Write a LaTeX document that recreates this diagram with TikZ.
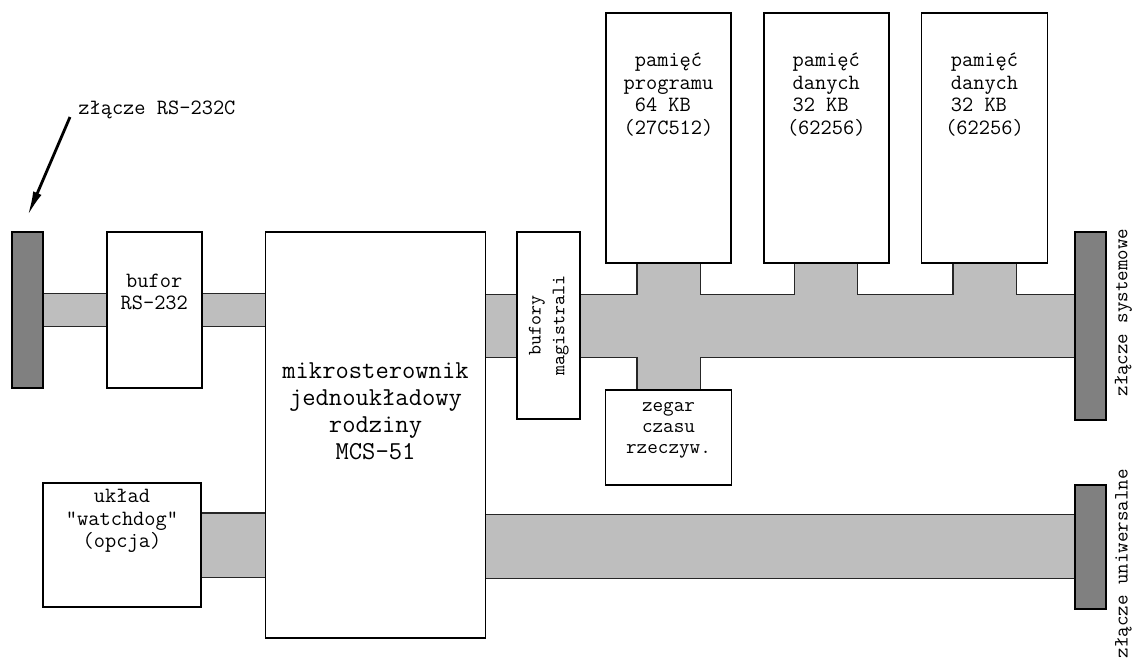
\documentclass[tikz,border=0pt]{standalone}
\usepackage{fontspec}
\usepackage{tikz}
\usetikzlibrary{arrows.meta, positioning, backgrounds}
\definecolor{szyna}{HTML}{BEBEBE}
\definecolor{zlacze}{HTML}{808080}

\newcommand{\szyny}[1]{%
    \path[#1] ([yshift=0.32cm]rscon.east) rectangle ([yshift=-0.32cm]bufrs.west);
    \path[#1] ([yshift=0.32cm]bufrs.east) rectangle ([yshift=-0.32cm]bufrs.east -| mcu.west);
    \path[#1] ([yshift=0.62cm]syscon.west -| mcu.east) rectangle ([yshift=-0.62cm]syscon.west);
    \path[#1] ([xshift=-0.62cm]prog.south) rectangle ([xshift=0.62cm]zegar.north);
    \path[#1] ([xshift=-0.62cm]dane1.south) rectangle ([xshift=0.62cm]dane1.south |- syscon.west);
    \path[#1] ([xshift=-0.62cm]dane2.south) rectangle ([xshift=0.62cm]dane2.south |- syscon.west);
    \path[#1] ([yshift=0.63cm]watchdog.east) rectangle ([yshift=-0.63cm]watchdog.east -| mcu.west);
    \path[#1] ([yshift=0.63cm]unicon.west -| mcu.east) rectangle ([yshift=-0.63cm]unicon.west);
}

\begin{document}
\begin{tikzpicture}[
        box/.style={
            rectangle,
            draw=black,
            fill=white,
            line width=1pt,
            inner sep=0pt
        },
        conn/.style={
            rectangle,
            draw=black,
            fill=zlacze,
            line width=1pt,
            inner sep=0pt,
            minimum width=0.62cm
        },
        txt/.style={
            align=center,
            inner sep=0pt,
            font=\ttfamily\fontsize{12.4}{12.8}\selectfont
        },
        bigtxt/.style={
            txt,
            font=\ttfamily\fontsize{14.7}{15.3}\selectfont
        },
        sidetxt/.style={
            txt,
            rotate=90,
            font=\ttfamily\fontsize{11.6}{12}\selectfont
        },
        busedge/.style={
            draw=black!85,
            line width=1.2pt
        },
        busfill/.style={
            fill=szyna
        },
        pointer/.style={
            -{Latex[length=5mm, width=1.8mm]},
            line width=1.6pt
        }
    ]
        \useasboundingbox (0,0) rectangle (22.68,-13.24);

        \node (rscon) [conn, minimum height=3.12cm] at (0.55,-6.2) {};
        \node (bufrs) [box, minimum width=1.9cm, minimum height=3.12cm, right=1.24cm of rscon] {};
        \node (mcu) [box, minimum width=4.4cm, minimum height=8.12cm, right=1.24cm of bufrs.north east, anchor=north west] {};
        \node (watchdog) [box, minimum width=3.16cm, minimum height=2.48cm] at (2.44,-10.9) {};
        \node (bufmag) [box, minimum width=1.26cm, minimum height=3.74cm, right=0.6cm of mcu.north east, anchor=north west] {};
        \node (prog) [box, minimum width=2.5cm, minimum height=5cm] at (13.37,-2.76) {};
        \node (dane1) [box, minimum width=2.5cm, minimum height=5cm, right=0.62cm of prog] {};
        \node (dane2) [box, minimum width=2.52cm, minimum height=5cm, right=0.62cm of dane1] {};
        \node (zegar) [box, minimum width=2.52cm, minimum height=1.9cm, below=2.5cm of prog] {};
        \node (syscon) [conn, minimum height=3.76cm] at (21.81,-6.52) {};
        \node (unicon) [conn, minimum height=2.48cm, below=1.26cm of syscon] {};

        \begin{scope}[on background layer]
            \szyny{busedge}
            \szyny{busfill}
        \end{scope}

        \node (bufrstxt) [txt] at ([yshift=-1.22cm]bufrs.north) {bufor\\RS-232};
        \node (watchdogtxt) [txt] at ([yshift=-0.78cm]watchdog.north) {układ\\"watchdog"\\(opcja)};
        \node (mcutxt) [bigtxt] at ([yshift=-3.6cm]mcu.north) {mikrosterownik\\jednoukładowy\\rodziny\\MCS-51};
        \node (bufmagtxt) [txt, rotate=90, font=\ttfamily\fontsize{10.8}{13.6}\selectfont] at (bufmag) {bufory\\magistrali};
        \node (progtxt) [txt] at ([yshift=-1.65cm]prog.north) {pamięć\\programu\\64 KB\hphantom{0}\\(27C512)};
        \node (dane1txt) [txt] at ([yshift=-1.65cm]dane1.north) {pamięć\\danych\\32 KB\hphantom{0}\\(62256)};
        \node (dane2txt) [txt] at ([yshift=-1.65cm]dane2.north) {pamięć\\danych\\32 KB\hphantom{0}\\(62256)};
        \node (zegartxt) [txt, font=\ttfamily\fontsize{11.7}{11.9}\selectfont] at ([yshift=-0.82cm]zegar.north) {zegar\\czasu\\rzeczyw.};

        \node (rslabel) [txt, anchor=west] at (1.56,-2.2) {złącze RS-232C};
        \node (syslabel) [sidetxt] at ([xshift=0.33cm, yshift=0.27cm]syscon.east) {złącze systemowe};
        \node (unilabel) [sidetxt] at ([xshift=0.33cm, yshift=-0.34cm]unicon.east) {złącze uniwersalne};

        \draw [pointer] ([shift={(-0.16cm,-0.14cm)}]rslabel.west) -- ([yshift=0.3cm]rscon.north);
    \end{tikzpicture}
\end{document}
